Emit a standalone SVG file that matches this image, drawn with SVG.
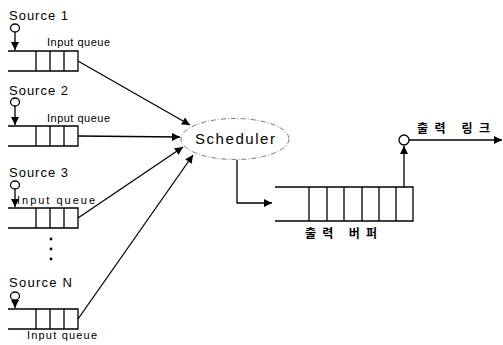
<svg xmlns="http://www.w3.org/2000/svg" width="503" height="345" viewBox="0 0 503 345">
  <style>
    .ln { stroke: #000; stroke-width: 1.3; fill: none; }
    .cell { stroke: #000; stroke-width: 1.3; fill: #fff; }
    .src { font-family: "Liberation Sans", Arial, sans-serif; font-size: 13px; fill: #000; }
    .iq { font-family: "Liberation Sans", Arial, sans-serif; font-size: 11px; fill: #000; }
    .sch { font-family: "Liberation Sans", Arial, sans-serif; font-size: 15px; fill: #000; }
    .ko { font-family: "Noto Sans CJK KR", "Noto Sans", sans-serif; font-size: 12px; font-weight: bold; fill: #000; }
  </style>
  <defs>
    <marker id="ah" viewBox="0 0 10 10" refX="10" refY="5" markerWidth="10" markerHeight="8" markerUnits="userSpaceOnUse" orient="auto">
      <path d="M0,0 L10,5 L0,10 Z" fill="#000"/>
    </marker>
  </defs>
  <rect width="503" height="345" fill="#fff"/>

  <!-- Source 1 -->
  <g id="source1">
    <text class="src" x="9" y="20" textLength="59">Source 1</text>
    <ellipse class="ln" cx="15" cy="28" rx="4.5" ry="4"/>
    <line class="ln" x1="15" y1="32" x2="15" y2="50" marker-end="url(#ah)"/>
    <text class="iq" x="47" y="46" textLength="63">Input queue</text>
    <path class="ln" d="M8,51 H78 V71 H8"/>
    <path class="ln" d="M36,51 V71 M50,51 V71 M64,51 V71"/>
  </g>

  <!-- Source 2 -->
  <g id="source2">
    <text class="src" x="9" y="95" textLength="59">Source 2</text>
    <ellipse class="ln" cx="15" cy="102" rx="4.5" ry="4"/>
    <line class="ln" x1="15" y1="106" x2="15" y2="125" marker-end="url(#ah)"/>
    <text class="iq" x="47" y="122" textLength="63">Input queue</text>
    <path class="ln" d="M8,126 H78 V146 H8"/>
    <path class="ln" d="M36,126 V146 M50,126 V146 M64,126 V146"/>
  </g>

  <!-- Source 3 -->
  <g id="source3">
    <text class="src" x="9" y="177" textLength="59">Source 3</text>
    <ellipse class="ln" cx="15" cy="185" rx="4.5" ry="4"/>
    <line class="ln" x1="15" y1="189" x2="15" y2="207" marker-end="url(#ah)"/>
    <text class="iq" x="17" y="204" textLength="78">Input queue</text>
    <path class="ln" d="M8,208 H78 V228 H8"/>
    <path class="ln" d="M36,208 V228 M50,208 V228 M64,208 V228"/>
  </g>

  <!-- ellipsis between queues -->
  <g id="dots" fill="#000">
    <circle cx="51" cy="239" r="1.4"/>
    <circle cx="51" cy="249" r="1.4"/>
    <circle cx="51" cy="259" r="1.4"/>
  </g>

  <!-- Source N -->
  <g id="sourceN">
    <text class="src" x="9" y="287" textLength="63">Source N</text>
    <ellipse class="ln" cx="15" cy="296" rx="4.5" ry="4"/>
    <line class="ln" x1="15" y1="300" x2="15" y2="308" marker-end="url(#ah)"/>
    <path class="ln" d="M8,309 H78 V329 H8"/>
    <path class="ln" d="M36,309 V329 M50,309 V329 M64,309 V329"/>
    <text class="iq" x="27" y="339" textLength="70">Input queue</text>
  </g>

  <!-- Scheduler -->
  <g id="scheduler">
    <ellipse cx="235" cy="139" rx="54" ry="20.5" fill="none" stroke="#777" stroke-width="1" stroke-dasharray="5,2,1,2"/>
    <text class="sch" x="235" y="144" text-anchor="middle" textLength="80">Scheduler</text>
  </g>

  <!-- Output buffer -->
  <g id="output-buffer">
    <path class="ln" d="M275,187 H413 V221 H275"/>
    <path class="ln" d="M309,187 V221 M327,187 V221 M344,187 V221 M362,187 V221 M379,187 V221 M396,187 V221"/>
    <text class="ko" x="305" y="238" textLength="72">출력 버퍼</text>
  </g>

  <!-- Output link -->
  <g id="output-link">
    <circle class="ln" cx="404" cy="140" r="5"/>
    <text class="ko" x="417" y="133" textLength="73">출력 링크</text>
  </g>

  <!-- Connectors -->
  <g id="connectors">
    <line class="ln" x1="78" y1="61" x2="190" y2="125" marker-end="url(#ah)"/>
    <line class="ln" x1="78" y1="136" x2="180" y2="137" marker-end="url(#ah)"/>
    <line class="ln" x1="78" y1="218" x2="183" y2="147" marker-end="url(#ah)"/>
    <line class="ln" x1="78" y1="319" x2="193" y2="155" marker-end="url(#ah)"/>
    <path class="ln" d="M237,160 V203 H272" marker-end="url(#ah)"/>
    <line class="ln" x1="404" y1="187" x2="404" y2="146" marker-end="url(#ah)"/>
    <line class="ln" x1="409" y1="140" x2="502" y2="140" marker-end="url(#ah)"/>
  </g>
</svg>
